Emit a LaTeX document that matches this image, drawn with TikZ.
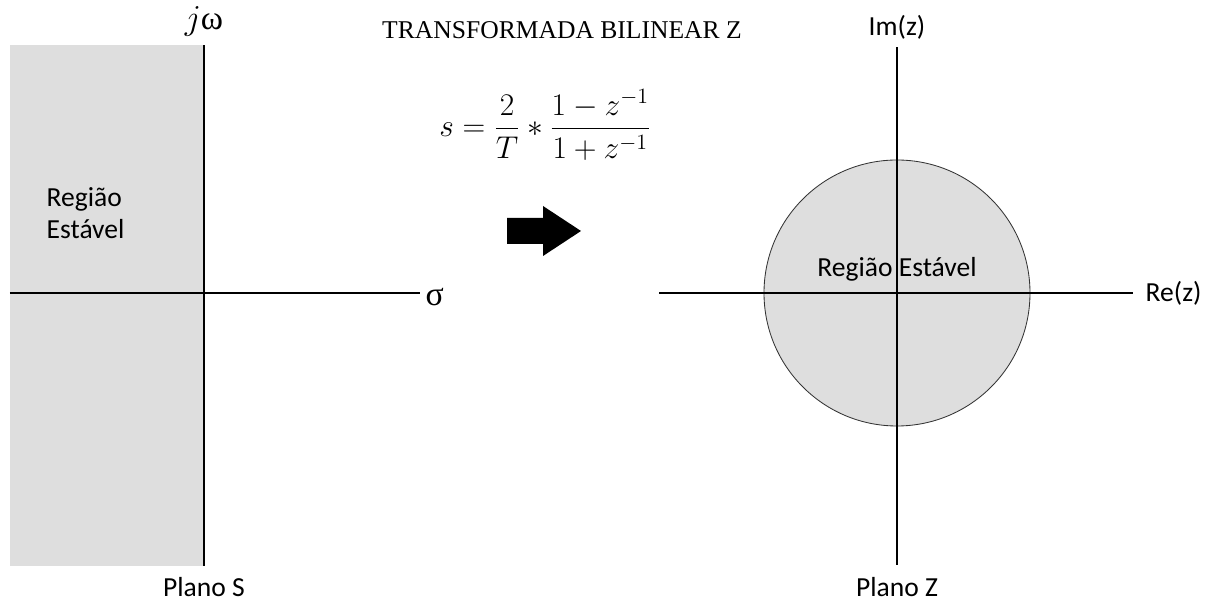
\documentclass[tikz,border=0pt]{standalone}
\usepackage{fontspec}
\usepackage{amsmath}
\usepackage{tikz}
\usetikzlibrary{positioning}
\newfontfamily\calibri{Carlito}
\newfontfamily\timesfont{Liberation Serif}
\definecolor{stablegray}{RGB}{222,222,222}
\tikzset{
  axis/.style={line width=0.8pt, black},
  lbl/.style={font=\calibri\fontsize{19.6}{23}\selectfont, inner sep=1pt},
  greek/.style={font=\timesfont\fontsize{24}{28}\selectfont, inner sep=1pt},
}

\begin{document}
\begin{tikzpicture}
    \useasboundingbox (-5.1,-7.725) rectangle (25.15,7.325);

    % Plano S
    \fill[stablegray] (-4.85,-6.825) rectangle (0,6.2);
    \coordinate (sl) at (-4.85,0);
    \coordinate (sr) at (5.4,0);
    \coordinate (st) at (0,6.2);
    \coordinate (sb) at (0,-6.825);
    \draw[axis] (sl) -- (sr);
    \draw[axis] (sb) -- (st);
    \node[greek, anchor=west] (sigma) at (5.5,-0.09) {σ};
    \node[greek] (jw) at (0,6.8) {$j$ω};
    \node[lbl, align=left, anchor=west] (sreg) at (-3.975,2.0) {Região\\Estável};
    \node[lbl, anchor=base] (ps) at (0,-7.6) {Plano S};

    % Titulo e formula
    \node[font=\timesfont\fontsize{18.2}{22}\selectfont] (title) at (8.95,6.575) {TRANSFORMADA BILINEAR Z};
    \node[font=\fontsize{20.74}{25}\selectfont, scale=1.08, transform shape] (eq) at (8.525,4.2)
        {$\displaystyle s=\frac{2}{T}*\frac{1-z^{-1}}{1+z^{-1}}$};

    % Seta
    \fill (7.575,1.875) -- (8.475,1.875) -- (8.475,2.175) -- (9.425,1.55)
        -- (8.475,0.925) -- (8.475,1.225) -- (7.575,1.225) -- cycle;

    % Plano Z
    \coordinate (zc) at (17.325,0);
    \coordinate (zl) at (11.375,0);
    \coordinate (zr) at (23.225,0);
    \coordinate (zt) at (17.325,6.15);
    \coordinate (zb) at (17.325,-6.8);
    \filldraw[fill=stablegray, draw=black!80, line width=0.6pt] (zc) circle (3.325);
    \draw[axis] (zl) -- (zr);
    \draw[axis] (zb) -- (zt);
    \node[lbl, anchor=west] (re) at (23.5,0) {Re(z)};
    \node[lbl] (im) at (17.325,6.65) {Im(z)};
    \node[lbl, anchor=base] (pz) at (17.325,-7.6) {Plano Z};
    \node[lbl] (zreg) at (17.325,0.6) {Região Estável};
\end{tikzpicture}
\end{document}
